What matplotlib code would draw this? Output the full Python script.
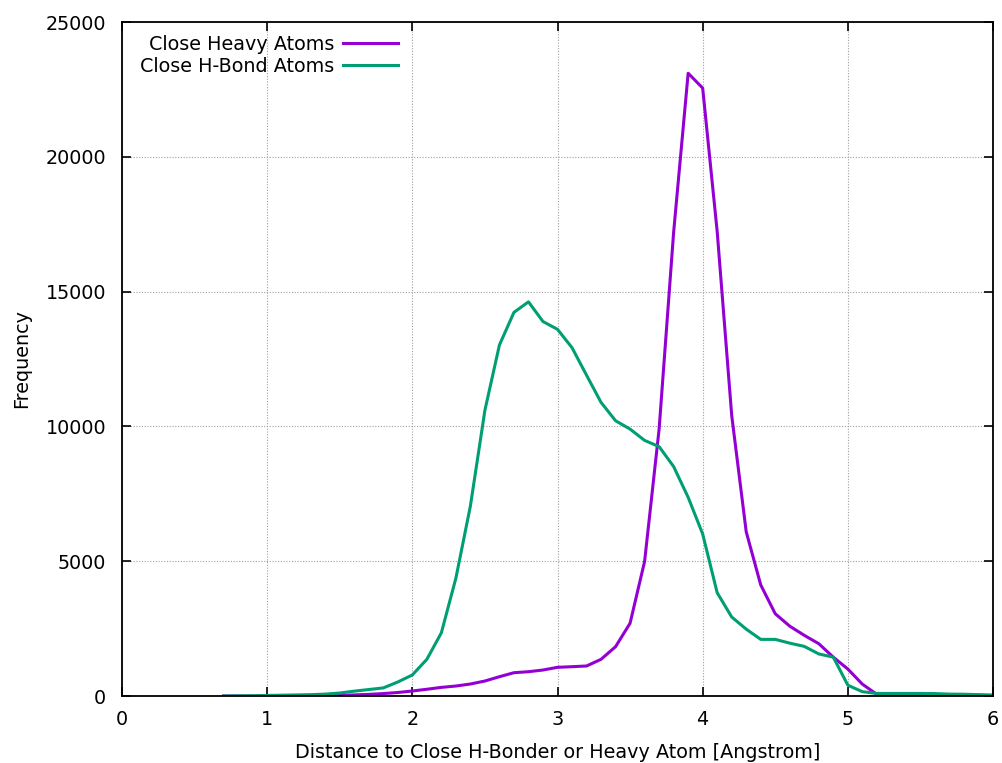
import matplotlib
import matplotlib.pyplot as plt

matplotlib.use("Agg")

# distance bins (Angstrom)
dist = [0.7, 0.8, 0.9, 1.0, 1.1, 1.2, 1.3, 1.4, 1.5, 1.6, 1.7, 1.8, 1.9,
        2.0, 2.1, 2.2, 2.3, 2.4, 2.5, 2.6, 2.7, 2.8, 2.9, 3.0, 3.1, 3.2,
        3.3, 3.4, 3.5, 3.6, 3.7, 3.8, 3.9, 4.0, 4.1, 4.2, 4.3, 4.4, 4.5,
        4.6, 4.7, 4.8, 4.9, 5.0, 5.1, 5.2, 5.3, 5.4, 5.5, 5.6, 5.7, 5.8,
        5.9, 6.0]

heavy = [0, 0, 0, 0, 0, 5, 10, 15, 25, 40, 60, 90, 130,
         185, 250, 320, 370, 445, 556, 716, 864, 901, 964, 1064, 1087, 1113,
         1361, 1830, 2700, 4990, 9900, 17200, 23100, 22550, 17230, 10410, 6090, 4120, 3050,
         2590, 2250, 1940, 1440, 1000, 440, 60, 40, 40, 40, 40, 35, 35,
         30, 30]

hbond = [0, 5, 10, 20, 30, 40, 50, 70, 110, 180, 240, 300, 520,
         780, 1360, 2345, 4370, 7050, 10600, 13020, 14230, 14620, 13890, 13600, 12920, 11900,
         10890, 10210, 9900, 9480, 9250, 8510, 7370, 6010, 3830, 2930, 2480, 2100, 2100,
         1960, 1840, 1560, 1440, 400, 160, 95, 95, 95, 95, 90, 70, 65,
         50, 25]

FS = 13.8

fig = plt.figure(figsize=(10.02, 7.63), dpi=100)
ax = fig.add_axes([122 / 1002, 1 - 696 / 763, (993 - 122) / 1002, (696 - 22) / 763])

ax.plot(dist, heavy, color="#9400D3", lw=2.2, label="Close Heavy Atoms")
ax.plot(dist, hbond, color="#009E73", lw=2.2, label="Close H-Bond Atoms")

ax.set_xlim(0, 6)
ax.set_ylim(0, 25000)
ax.set_xticks(range(0, 7))
ax.set_yticks(range(0, 25001, 5000))
ax.grid(True, color="#a0a0a0", linestyle=(0, (1, 1.5)), linewidth=0.8)
ax.tick_params(direction="in", length=6.5, width=1.2, top=True, right=True,
               labelsize=FS)
ax.tick_params(axis="x", pad=10)
ax.tick_params(axis="y", pad=11.5)
for s in ax.spines.values():
    s.set_linewidth(1.3)

ax.set_xlabel("Distance to Close H-Bonder or Heavy Atom [Angstrom]", fontsize=FS, labelpad=10)
ax.set_ylabel("Frequency", fontsize=FS, labelpad=10)

leg = ax.legend(loc="upper right", bbox_to_anchor=(0.317, 0.981), markerfirst=False,
                frameon=False, fontsize=FS, borderpad=0, borderaxespad=0,
                handlelength=2.9, handletextpad=0.45, labelspacing=0.16)

fig.savefig("out.png", dpi=100)
plt.close(fig)
